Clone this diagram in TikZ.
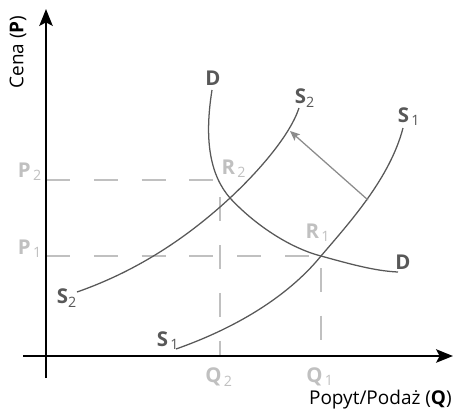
\documentclass[tikz,border=0pt]{standalone}
\usepackage{fontspec}
\setmainfont{Open Sans}
\usetikzlibrary{arrows.meta, positioning}
\definecolor{curvegray}{RGB}{88, 88, 88}
\definecolor{dashgray}{RGB}{192, 192, 192}
\definecolor{arrowgray}{RGB}{140, 140, 140}

\begin{document}
\begin{tikzpicture}[
  x=0.025cm, y=-0.025cm,
  axis/.style={line width=1.5pt, -{Stealth[length=12pt, width=9.5pt, inset=2.5pt]}},
  curve/.style={curvegray, line width=0.9pt},
  guide/.style={dashgray, line width=1.1pt, dash pattern=on 17pt off 17pt},
  shiftarrow/.style={arrowgray, line width=0.9pt, -{Stealth[length=7pt, width=6pt, inset=1.5pt]}},
  clab/.style={curvegray, inner sep=0pt, font=\bfseries\fontsize{14.5}{15}\selectfont},
  plab/.style={dashgray, inner sep=0pt, font=\bfseries\fontsize{14.5}{15}\selectfont},
  alab/.style={inner sep=0pt, font=\fontsize{13.5}{14}\selectfont}
]
  \useasboundingbox (0,0) rectangle (455,409);

  \coordinate (xstart) at (23,356);
  \coordinate (xend) at (453,356);
  \coordinate (ystart) at (46,378);
  \coordinate (yend) at (46,9);
  \coordinate (P2) at (46,180);
  \coordinate (P1) at (46,256);
  \coordinate (Q2) at (220,356);
  \coordinate (Q1) at (321,356);
  \coordinate (R2) at (220,180);
  \coordinate (R1) at (321,256);
  \coordinate (X) at (230,198);
  \coordinate (onS1) at (368,200);
  \coordinate (onS2) at (290,131);

  \draw[guide] (P2) -- (R2) -- (Q2);
  \draw[guide] (P1) -- (R1) -- (Q1);

  \draw[curve] (212,90) .. controls (204,140) and (210,175) .. (X)
    .. controls (255,225) and (290,248) .. (R1)
    .. controls (350,264) and (375,271) .. (398,272);
  \draw[curve] (77,292) .. controls (140,270) and (190,235) .. (X)
    .. controls (260,170) and (290,135) .. (299,108);
  \draw[curve] (176,349) .. controls (230,330) and (285,300) .. (R1)
    .. controls (350,222) and (390,178) .. (403,128);

  \draw[shiftarrow] (onS1) -- (onS2);

  \draw[axis] (xstart) -- (xend);
  \draw[axis] (ystart) -- (yend);

  \node[alab, rotate=90] (ylab) at (18,52) {Cena (\textbf{P})};
  \node[alab, anchor=east] (xlab) at (452,400) {Popyt/Podaż (\textbf{Q})};

  \node[clab] (Dtop) at (213,78) {D};
  \node[clab] (Dbot) at (403,262) {D};
  \node[clab] (S2top) at (305,98) {S\textsubscript{\mdseries 2}};
  \node[clab] (S2bot) at (67,298) {S\textsubscript{\mdseries 2}};
  \node[clab] (S1top) at (409,117) {S\textsubscript{\mdseries\,1}};
  \node[clab] (S1bot) at (168,341) {S\textsubscript{\mdseries\,1}};

  \node[plab] (P2lab) at (30,172) {P\textsubscript{\mdseries\,2}};
  \node[plab] (P1lab) at (30,249) {P\textsubscript{\mdseries\,1}};
  \node[plab] (Q2lab) at (219,377) {Q\textsubscript{\mdseries\,2}};
  \node[plab] (Q1lab) at (320,377) {Q\textsubscript{\mdseries\,1}};
  \node[plab] (R2lab) at (234,169) {R\textsubscript{\mdseries\,2}};
  \node[plab] (R1lab) at (318,233) {R\textsubscript{\mdseries\,1}};
\end{tikzpicture}
\end{document}
